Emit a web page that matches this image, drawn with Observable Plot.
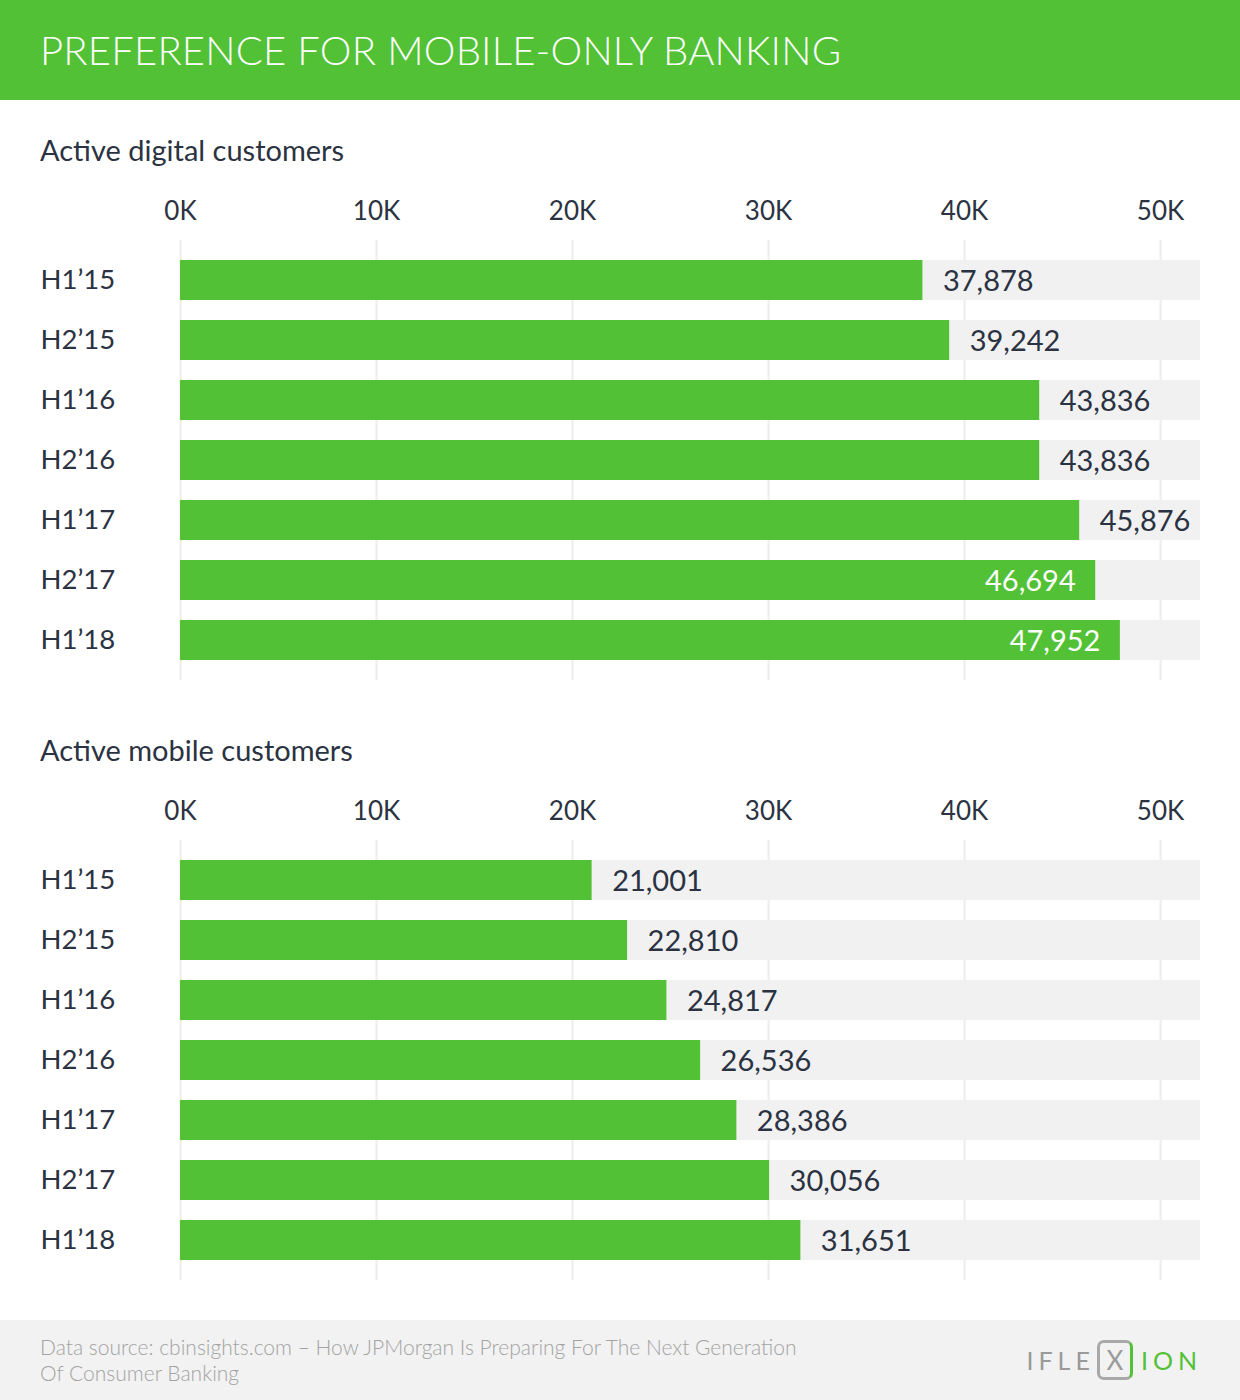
<!DOCTYPE html>
<html>
<head>
<meta charset="utf-8">
<script src="https://cdn.jsdelivr.net/npm/d3@7"></script>
<script src="https://cdn.jsdelivr.net/npm/@observablehq/plot@0.6"></script>
<style>
  html, body { margin: 0; padding: 0; background: #fff; }
  body { width: 1240px; height: 1400px; position: relative; font-family: Lato, "Open Sans", sans-serif; color: #2b3241; }
  #header { position: absolute; left: 0; top: 0; width: 1240px; height: 100px; background: #52c135; }
  #header h1 { margin: 0; position: absolute; left: 40px; top: 0; line-height: 100px; font-size: 40px; font-weight: 300; color: #fff; letter-spacing: 0.2px; }
  .subtitle { position: absolute; left: 40px; font-size: 29px; font-weight: 400; line-height: 40px; color: #2b3241; }
  .chart { position: absolute; left: 0; }
  #footer { position: absolute; left: 0; top: 1320px; width: 1240px; height: 80px; background: #f2f2f2; }
  #source { position: absolute; left: 40px; top: 14px; font-size: 21px; line-height: 26px; color: #a3a3a3; font-weight: 300; }
  #logo { position: absolute; right: 38px; top: 20px; font-size: 25px; letter-spacing: 5px; font-weight: 400; display: flex; align-items: center; height: 40px; }
  #logo .g { color: #9a9a9a; }
  #logo .x { display: inline-block; width: 36px; height: 40px; border: 3px solid #a8a8a8; border-right-color: #52c135; border-top-color: #a8a8a8; border-radius: 7px; color: #9a9a9a; text-align: center; line-height: 34px; letter-spacing: 0; margin: 0 8px 0 2px; box-sizing: border-box; font-size: 26px; }
  #logo .n { color: #52c135; }
</style>
</head>
<body>
<div id="header"><h1>PREFERENCE FOR MOBILE-ONLY BANKING</h1></div>
<div class="subtitle" style="top:130px">Active digital customers</div>
<div class="chart" id="chart1" style="top:180px"></div>
<div class="subtitle" style="top:730px">Active mobile customers</div>
<div class="chart" id="chart2" style="top:780px"></div>
<div id="footer">
  <div id="source">Data source: cbinsights.com – How JPMorgan Is Preparing For The Next Generation<br>Of Consumer Banking</div>
  <div id="logo"><span class="g">IFLE</span><span class="x">X</span><span class="n">ION</span></div>
</div>
<script>
const periods = ["H1’15", "H2’15", "H1’16", "H2’16", "H1’17", "H2’17", "H1’18"];
const digitalValues = [37878, 39242, 43836, 43836, 45876, 46694, 47952];
const mobileValues = [21001, 22810, 24817, 26536, 28386, 30056, 31651];
const tickValues = [0, 10000, 20000, 30000, 40000, 50000];
const tickLabels = ["0K", "10K", "20K", "30K", "40K", "50K"];
const axisMax = 52040;

const green = "#52c135";
const track = "#f1f1f1";
const ink = "#2b3241";

function makeChart(values) {
  const data = periods.map((p, i) => ({period: p, value: values[i]}));
  const width = 1240, marginLeft = 180, marginRight = 40;
  const plotWidth = width - marginLeft - marginRight;
  const pxPerUnit = plotWidth / axisMax;
  const fitsOutside = d => d.value * pxPerUnit + 20 + 92 <= plotWidth;
  const fmt = d3.format(",");
  return Plot.plot({
    width, height: 520,
    marginLeft, marginRight, marginTop: 60, marginBottom: 20,
    style: {fontFamily: "Lato, 'Open Sans', sans-serif", color: ink, background: "transparent"},
    x: {domain: [0, axisMax], label: null},
    y: {domain: periods, padding: 1/3, round: false, label: null},
    marks: [
      Plot.ruleX(tickValues, {stroke: "#ececec", strokeWidth: 2}),
      Plot.barX(data, {y: "period", x1: 0, x2: axisMax, fill: track}),
      Plot.barX(data, {y: "period", x: "value", fill: green}),
      Plot.axisX({anchor: "top", label: null, ticks: tickValues, tickFormat: (d, i) => tickLabels[i], tickSize: 0, tickPadding: 21, fontSize: 26, fill: ink, textAnchor: "middle"}),
      Plot.axisY({label: null, tickSize: 0, tickPadding: 140, textAnchor: "start", fontSize: 27.5, fill: ink}),
      Plot.text(data.filter(fitsOutside), {y: "period", x: "value", text: d => fmt(d.value), dx: 20, textAnchor: "start", fontSize: 29, fill: ink, dy: 1}),
      Plot.text(data.filter(d => !fitsOutside(d)), {y: "period", x: "value", text: d => fmt(d.value), dx: -20, textAnchor: "end", fontSize: 29, fill: "#ffffff", dy: 1})
    ]
  });
}

document.getElementById("chart1").appendChild(makeChart(digitalValues));
document.getElementById("chart2").appendChild(makeChart(mobileValues));
</script>
</body>
</html>
